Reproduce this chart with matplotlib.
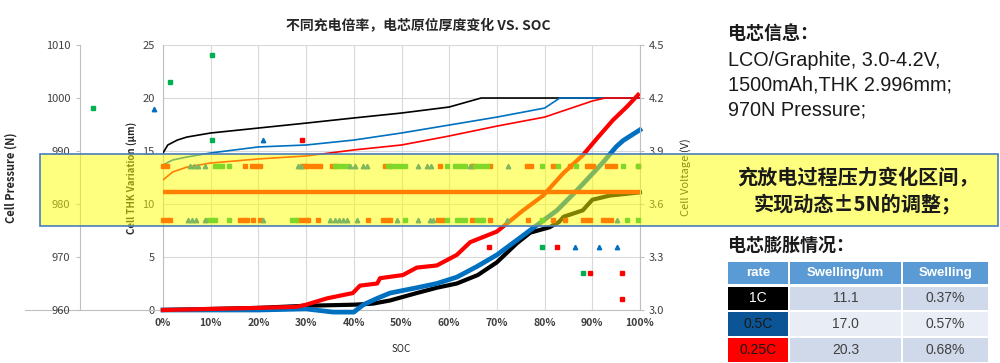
import matplotlib
matplotlib.use("Agg")
import matplotlib.pyplot as plt
from matplotlib.patches import Rectangle

plt.rcParams['font.family'] = ['Noto Sans CJK SC', 'DejaVu Sans']
LATIN = ['Liberation Sans', 'Noto Sans CJK SC', 'DejaVu Sans']

# ---- thickness variation (um) vs SOC (%) ----
soc_thk_1c = [0, 10, 20, 30, 40, 44, 47.6, 53.2, 57.4, 61.6, 66, 70, 74.2, 77, 81, 83, 84, 88, 90, 93.7, 100]
thk_1c = [0, 0.1, 0.2, 0.4, 0.5, 0.6, 0.9, 1.6, 2.1, 2.5, 3.3, 4.5, 6.3, 7.3, 7.8, 8.3, 8.8, 9.4, 10.4, 10.8, 11.1]
soc_thk_05c = [0, 10, 20, 30, 35.7, 40, 42, 44.9, 47.6, 53.2, 57.4, 61.6, 65.8, 70, 72.7, 76.9, 82.6, 86.8, 92.2, 95, 96.5, 100]
thk_05c = [0, 0, 0, 0.1, -0.2, -0.2, 0.5, 1.1, 1.6, 2.1, 2.5, 3.1, 4.1, 5.2, 6.1, 7.5, 9.4, 11.3, 13.9, 15.4, 16.0, 17.0]
soc_thk_025c = [0, 10, 20, 28, 30, 34.4, 39.8, 41.3, 44.9, 45.5, 50.3, 53.2, 57.4, 61.6, 64.4, 70, 75.5, 79.7, 83.9, 88, 91.2, 94.3, 97.3, 99.6]
thk_025c = [0, 0.1, 0.2, 0.3, 0.5, 1.1, 1.6, 2.3, 2.5, 3.0, 3.3, 4.0, 4.2, 5.2, 6.4, 7.4, 9.4, 10.8, 12.9, 14.6, 16.3, 17.9, 19.2, 20.3]

# ---- cell voltage (V) vs SOC (%) ----
soc_v_1c = [0, 1, 3, 5, 10, 20, 30, 40, 50, 60, 66.7, 100]
volt_1c = [3.889, 3.934, 3.962, 3.979, 4.002, 4.030, 4.058, 4.087, 4.115, 4.149, 4.2, 4.2]
soc_v_05c = [0, 2, 5, 10, 20, 30, 40, 50, 60, 70, 80, 83.2, 100]
volt_05c = [3.821, 3.849, 3.866, 3.889, 3.923, 3.934, 3.962, 4.002, 4.047, 4.092, 4.143, 4.2, 4.2]
soc_v_025c = [0, 2, 5, 10, 20, 30, 40, 50, 60, 70, 80, 90, 92.7, 100]
volt_025c = [3.736, 3.781, 3.809, 3.832, 3.855, 3.872, 3.906, 3.934, 3.985, 4.041, 4.092, 4.183, 4.2, 4.2]

# ---- cell pressure (N) ----
p_levels = [987.1, 982.2, 977.0]
p_line_soc = [0, 100]
red_hi = [0, 0.8, 17.2, 18.7, 19.5, 20.3, 29.1, 29.8, 30.2, 31.2, 32.1, 32.9, 35.4, 36.3, 46.5, 47.6, 58.1,
          64.8, 65.0, 68.6, 76.3, 77.1, 81.8, 85.3, 88.9, 89.5, 90.1, 93.1, 93.9, 94.8, 99.6]
green_hi = [10.9, 11.7, 12.4, 13.8, 36.1, 36.9, 37.7, 38.6, 47.2, 48.0, 48.8, 49.7, 50.7, 59.5, 61.2, 62.1,
            62.7, 63.3, 65.4, 66.2, 67.1, 67.9, 79.5, 82.8, 86.6, 96.4, 99.6]
blue_hi = [5.7, 6.5, 7.3, 8.8, 28.3, 28.9, 39.2, 40.3, 41.9, 42.8, 53.5, 55.3, 56.2, 64.4, 72.3]
red_lo = [0, 0.8, 1.5, 16.1, 17.0, 17.6, 18.9, 20.3, 28.3, 29.1, 30.0, 30.4, 32.5, 43.0, 46.1, 47.0, 47.6,
          57.7, 58.5, 64.8, 68.6, 76.5, 81.8, 84.3, 88.1, 88.9, 89.5, 92.2, 93.1, 93.9]
green_lo = [9.4, 10.3, 10.9, 13.8, 27.0, 27.9, 50.7, 59.5, 61.6, 62.5, 63.3, 65.8, 66.7, 67.1, 79.5, 97.3, 99.6]
blue_lo = [5.2, 6.1, 6.9, 8.8, 21.0, 35.0, 36.1, 36.9, 37.7, 38.6, 40.7, 49.1, 53.5, 56.0, 56.6, 72.1, 95.2]
# outlying pressure readings
green_out_soc = [-14.7, 1.5, 10.3, 10.3, 79.5, 88.1]
green_out_p = [998.1, 1003.0, 1008.1, 992.0, 971.9, 967.0]
blue_out_soc = [-1.9, 21.0, 86.4, 91.4, 95.2]
blue_out_p = [998.0, 992.0, 971.9, 971.9, 971.9]
red_out_soc = [29.1, 68.3, 82.6, 89.5, 96.2, 96.2]
red_out_p = [992.0, 971.9, 971.9, 967.0, 967.0, 962.1]

soc_ticks = [0, 10, 20, 30, 40, 50, 60, 70, 80, 90, 100]
thk_ticks = [0, 5, 10, 15, 20, 25]
volt_ticks = [3.0, 3.3, 3.6, 3.9, 4.2, 4.5]
p_ticks = [960, 970, 980, 990, 1000, 1010]

info_lines = ["电芯信息：", "LCO/Graphite, 3.0-4.2V,", "1500mAh,THK 2.996mm;", "970N Pressure;"]
table_header = ["rate", "Swelling/um", "Swelling"]
rates = ["1C", "0.5C", "0.25C"]
swell_um = ["11.1", "17.0", "20.3"]
swell_pct = ["0.37%", "0.57%", "0.68%"]

BLACK, BLUE, RED, GREEN = "#000000", "#0070C0", "#FF0000", "#00B050"
GRID, SPINE, TXT = "#D9D9D9", "#BFBFBF", "#404040"

fig = plt.figure(figsize=(10, 3.63), dpi=100)
H = 363.0


def fy(y):
    return 1 - y / H


ax = fig.add_axes([0.163, 0.146, 0.477, 0.730])
ax.set_xlim(0, 100)
ax.set_ylim(0, 25)
ax.set_xticks(soc_ticks)
ax.set_xticklabels([f"{v}%" for v in soc_ticks], fontsize=7.5, color=TXT, fontweight="bold")
ax.set_yticks(thk_ticks)
ax.set_yticklabels([str(v) for v in thk_ticks], fontsize=8, color=TXT)
ax.tick_params(length=0, pad=6)
ax.grid(color=GRID, lw=0.8)
ax.set_axisbelow(True)
for s in ["top", "right"]:
    ax.spines[s].set_visible(False)
for s in ["left", "bottom"]:
    ax.spines[s].set_color(SPINE)
ax.set_ylabel("Cell THK Variation (μm)", fontsize=7, fontweight="bold", color="#262626")
ax.yaxis.set_label_coords(-0.055, 0.5)
ax.set_xlabel("SOC", fontsize=7, color="#262626")
ax.xaxis.set_label_coords(0.5, -0.13)
ax.plot([-28.9, 0], [0, 0], color=SPINE, lw=0.8, clip_on=False)

ax.plot(soc_thk_1c, thk_1c, color=BLACK, lw=3, clip_on=False, zorder=3)
ax.plot(soc_thk_05c, thk_05c, color=BLUE, lw=3.4, clip_on=False, zorder=3)
ax.plot(soc_thk_025c, thk_025c, color=RED, lw=3, clip_on=False, zorder=4)

axv = ax.twinx()
axv.set_ylim(3.0, 4.5)
axv.set_yticks(volt_ticks)
axv.set_yticklabels([f"{v:.1f}" for v in volt_ticks], fontsize=8, color=TXT)
axv.tick_params(length=3, color=SPINE, pad=3)
for s in ["top", "left", "bottom"]:
    axv.spines[s].set_visible(False)
axv.spines["right"].set_color(SPINE)
axv.set_ylabel("Cell Voltage (V)", fontsize=8, color="#262626")
axv.yaxis.set_label_coords(1.084, 0.5)
axv.plot(soc_v_1c, volt_1c, color=BLACK, lw=1.2)
axv.plot(soc_v_05c, volt_05c, color=BLUE, lw=1.2)
axv.plot(soc_v_025c, volt_025c, color=RED, lw=1.2)

axp = ax.twinx()
axp.set_ylim(960, 1010)
axp.spines["left"].set_position(("axes", -0.174))
axp.spines["left"].set_visible(True)
axp.spines["left"].set_color(SPINE)
for s in ["top", "right", "bottom"]:
    axp.spines[s].set_visible(False)
axp.yaxis.set_ticks_position("left")
axp.yaxis.set_label_position("left")
axp.set_yticks(p_ticks)
axp.set_yticklabels([str(v) for v in p_ticks], fontsize=8, color=TXT)
axp.tick_params(length=3, color=SPINE, pad=4)
axp.set_ylabel("Cell Pressure (N)", fontsize=8, fontweight="bold", color="#262626")
axp.yaxis.set_label_coords(-0.304, 0.5)

axp.plot(p_line_soc, [p_levels[1]] * len(p_line_soc), color=RED, lw=3.2, solid_capstyle="butt")
mk = dict(ls="none", ms=3.2, clip_on=False)
axp.plot(red_hi, [p_levels[0]] * len(red_hi), "s", color=RED, **mk)
axp.plot(green_hi, [p_levels[0]] * len(green_hi), "s", color=GREEN, **mk)
axp.plot(blue_hi, [p_levels[0]] * len(blue_hi), "^", color=BLUE, **mk)
axp.plot(red_lo, [p_levels[2]] * len(red_lo), "s", color=RED, **mk)
axp.plot(green_lo, [p_levels[2]] * len(green_lo), "s", color=GREEN, **mk)
axp.plot(blue_lo, [p_levels[2]] * len(blue_lo), "^", color=BLUE, **mk)
axp.plot(green_out_soc, green_out_p, "s", color=GREEN, **mk)
axp.plot(blue_out_soc, blue_out_p, "^", color=BLUE, **mk)
axp.plot(red_out_soc, red_out_p, "s", color=RED, **mk)

fig.text(0.418, fy(26), "不同充电倍率，电芯原位厚度变化 VS. SOC", ha="center", va="center",
         fontsize=10, fontweight="bold", color="#262626")

# translucent highlight band over the chart
band = Rectangle((0.040, fy(226)), 0.958, 72 / H, transform=fig.transFigure,
                 facecolor=(1, 1, 0, 0.5), edgecolor="#4A7EBB", lw=1.2, zorder=10)
fig.add_artist(band)
fig.text(0.858, fy(178), "充放电过程压力变化区间，", ha="center", va="center",
         fontsize=14.5, fontweight="bold", color="#1A1A1A", zorder=11)
fig.text(0.858, fy(204), "实现动态±5N的调整；", ha="center", va="center",
         fontsize=14.5, fontweight="bold", color="#1A1A1A", zorder=11)

# info block
for i, (line, y) in enumerate(zip(info_lines, [33, 60, 85, 110])):
    if i == 0:
        fig.text(0.728, fy(y), line, ha="left", va="center", fontsize=13,
                 fontweight="bold", color="#1A1A1A")
    else:
        fig.text(0.728, fy(y), line, ha="left", va="center", fontsize=14.3,
                 family=LATIN, color="#1A1A1A")
fig.text(0.728, fy(245), "电芯膨胀情况：", ha="left", va="center", fontsize=13,
         fontweight="bold", color="#1A1A1A")

# swelling table
cols = [(728, 788), (790, 901), (903, 988)]
rows = [(262, 284), (287, 310), (312, 336), (338, 362)]
rate_fill = [BLACK, "#0B5495", RED]
rate_text = ["white", "#1A1A1A", "#1A1A1A"]
cell_fill = ["#CFD9EA", "#E8EDF6", "#CFD9EA"]


def cell(c, r, fill, text, color, weight="normal"):
    x0, x1 = cols[c]
    y0, y1 = rows[r]
    fig.add_artist(Rectangle((x0 / 1000, fy(y1)), (x1 - x0) / 1000, (y1 - y0) / H,
                             transform=fig.transFigure, facecolor=fill, edgecolor="none"))
    fig.text((x0 + x1) / 2000, fy((y0 + y1) / 2), text, ha="center", va="center",
             fontsize=9.5 if r == 0 else 10, color=color, fontweight=weight, family=LATIN)


for c, h in enumerate(table_header):
    cell(c, 0, "#5B9BD5", h, "white", "bold")
for r in range(3):
    cell(0, r + 1, rate_fill[r], rates[r], rate_text[r])
    cell(1, r + 1, cell_fill[r], swell_um[r], TXT)
    cell(2, r + 1, cell_fill[r], swell_pct[r], TXT)

fig.savefig("out.png", dpi=100)
